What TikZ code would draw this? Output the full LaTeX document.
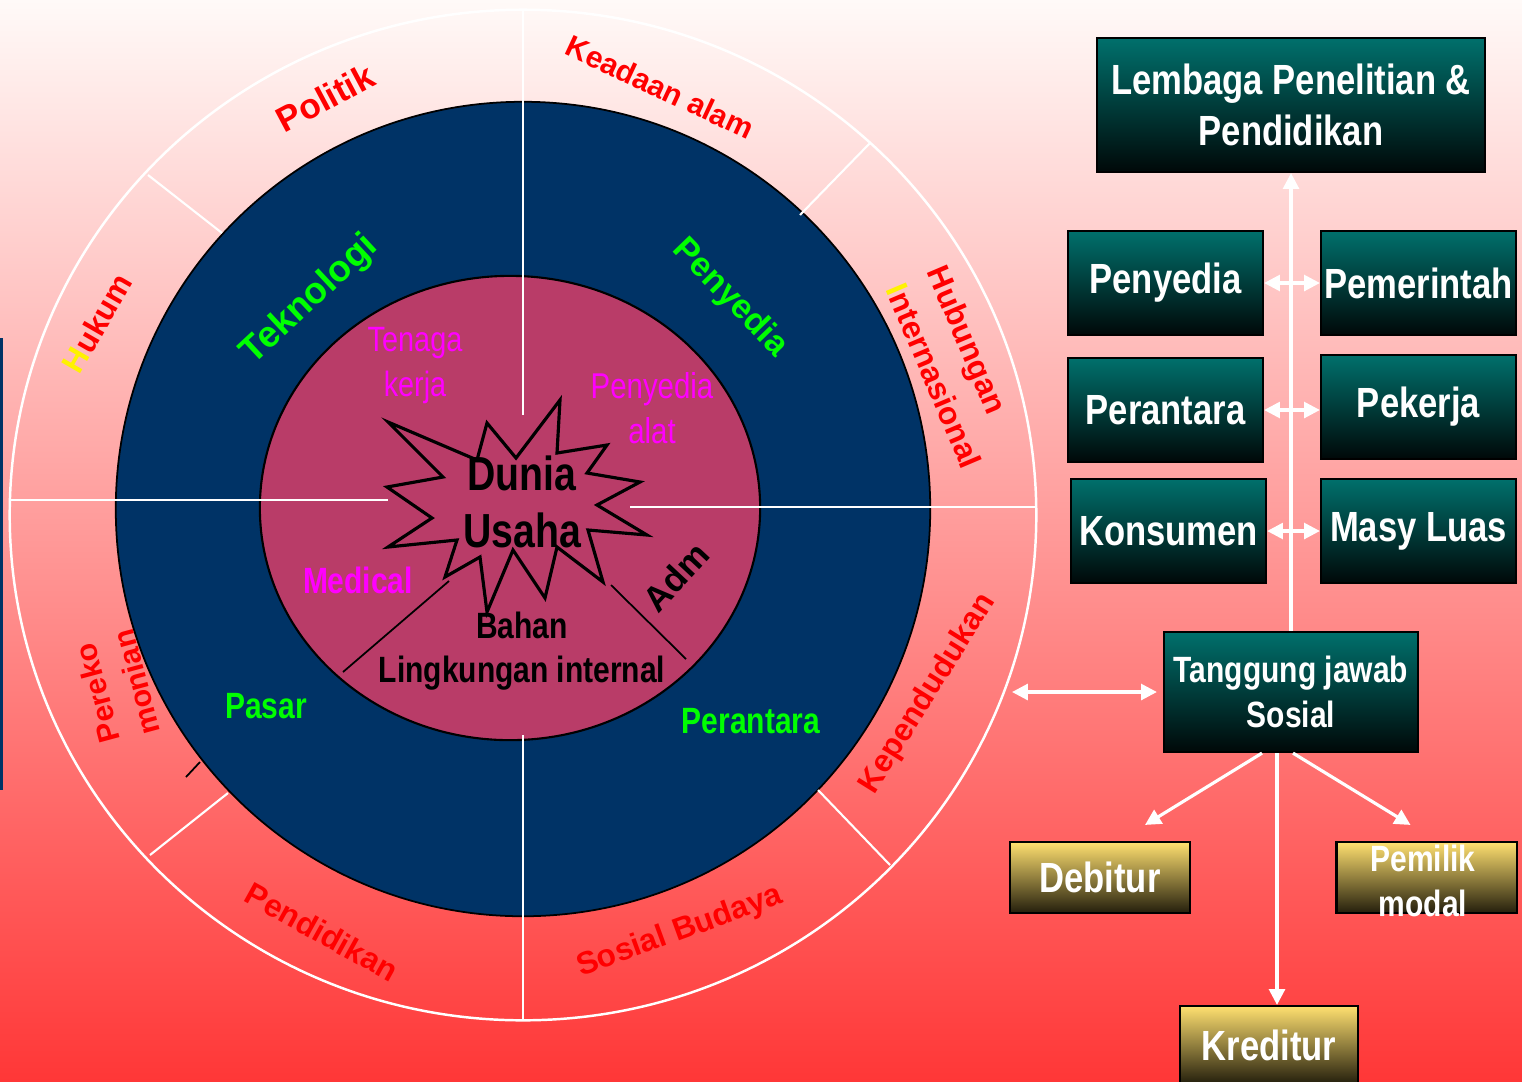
\documentclass[tikz,border=0pt]{standalone}
\usepackage{fontspec}
\setmainfont{Liberation Sans}
\newfontfamily\narrowfont[FakeStretch=0.82]{Liberation Sans}
\usetikzlibrary{calc,arrows.meta}

\definecolor{bgtop}{RGB}{255,250,248}
\definecolor{bgmid}{RGB}{255,178,178}
\definecolor{bgbot}{RGB}{255,55,55}
\definecolor{navy}{RGB}{0,51,102}
\definecolor{rose}{RGB}{185,60,104}
\definecolor{tealtop}{RGB}{0,112,108}
\definecolor{tealmid}{RGB}{0,72,70}
\definecolor{tealbot}{RGB}{0,8,8}
\definecolor{goldtop}{RGB}{255,224,112}
\definecolor{goldmid}{RGB}{180,150,65}
\definecolor{goldbot}{RGB}{35,30,12}
\definecolor{lime}{RGB}{0,255,0}
\definecolor{pink}{RGB}{255,0,255}

\newcommand\fsz[2]{\fontsize{#1}{#2}\selectfont}

\tikzset{
  ringtxt/.style={text=red, font=\bfseries\fsz{9}{11}, inner sep=0pt},
  bluetxt/.style={text=lime, font=\bfseries\fsz{10}{12}, inner sep=0pt},
  narrowtxt/.style={font=\narrowfont\bfseries\fsz{10.4}{12.6}, align=center, inner sep=0pt},
  tealbox/.style={draw=black, line width=0.6pt, top color=tealtop, middle color=tealmid,
    bottom color=tealbot, text=white, font=\narrowfont\bfseries\fsz{12}{14.5},
    align=center, inner sep=0pt, minimum width=1.95cm, minimum height=1.04cm},
  goldbox/.style={draw=black, line width=0.6pt, top color=goldtop, middle color=goldmid,
    bottom color=goldbot, text=white, font=\narrowfont\bfseries\fsz{12}{14.5},
    align=center, inner sep=0pt, minimum width=1.8cm, minimum height=0.71cm},
  wline/.style={white, line width=0.9pt},
  warr/.style={wline, -{Triangle[length=4.5pt,width=4.5pt]}},
  wdbl/.style={wline, {Triangle[length=4.5pt,width=4.5pt]}-{Triangle[length=4.5pt,width=4.5pt]}},
}

\begin{document}
\begin{tikzpicture}[x=0.01cm,y=-0.01cm]
  \useasboundingbox (0,0) rectangle (1522,1081);
  \clip (0,0) rectangle (1522,1081);
  \shade[top color=bgtop, middle color=bgmid, bottom color=bgbot] (0,0) rectangle (1522,1081);
  \fill[navy] (0,338) rectangle (3,790);

  % rings
  \draw[white, line width=0.7pt] (523,515) ellipse [x radius=5.13cm, y radius=5.05cm];
  \filldraw[fill=navy, draw=black, line width=0.5pt] (523,509) circle [radius=4.07cm];
  \filldraw[fill=rose, draw=black, line width=0.6pt] (510,508) ellipse [x radius=2.5cm, y radius=2.32cm];

  % dividing lines
  \draw[white, line width=0.6pt] (523,10) -- (523,415) (523,735) -- (523,1020)
    (10,500) -- (388,500) (630,507) -- (1037,507);
  \draw[white, line width=0.6pt] (148,175) -- (222,233) (870,143) -- (800,215)
    (150,855) -- (228,793) (818,790) -- (890,865);
  \draw[black, line width=0.5pt] (186,777) -- (200,762);
  \draw[black, line width=0.5pt] (343,672) -- (449,581) (611,585) -- (686,659);

  % star
  \draw[black, line width=0.9pt] (388,422) -- (477,460) -- (487,423) -- (516,458) -- (560,400)
    -- (557,453) -- (607,445) -- (587,473) -- (640,482) -- (597,505) -- (647,535)
    -- (588,530) -- (603,582) -- (557,547) -- (545,598) -- (513,550) -- (487,612)
    -- (480,557) -- (445,577) -- (457,540) -- (388,547) -- (432,518) -- (387,487)
    -- (443,477) -- cycle;

  % outer ring labels
  \node[ringtxt, font=\bfseries\fsz{10}{12}, rotate=28] (politik) at (325,98) {Politik};
  \node[ringtxt, font=\bfseries\fsz{8.6}{10}, rotate=-25] (alam) at (660,87) {Keadaan alam};
  \node[ringtxt, rotate=60] (hukum) at (97,323) {\textcolor{yellow}{H}ukum};
  \node[ringtxt, font=\bfseries\fsz{9}{12.8}, align=left, rotate=-67] (hubint) at (955,367)
    {Hubungan\\\textcolor{yellow}{I}nternasional};
  \node[ringtxt, rotate=58] (penduduk) at (928,694) {Kependudukan};
  \node[ringtxt, rotate=20] (sosbud) at (680,932) {Sosial Budaya};
  \node[ringtxt, rotate=-29] (didik) at (322,932) {Pendidikan};
  \node[ringtxt, font=\bfseries\fsz{8.6}{11.5}, align=center, rotate=105] (ekonomi) at (117,688) {Pereko\\monian};

  % blue ring labels
  \node[bluetxt, font=\bfseries\fsz{10.5}{12}, rotate=43] (tekno) at (310,300) {Teknologi};
  \node[bluetxt, font=\bfseries\fsz{9.7}{12}, rotate=-46] (sedia) at (730,298) {Penyedia};
  \node[narrowtxt, text=lime] (pasar) at (266,706) {Pasar};
  \node[narrowtxt, text=lime] (antara) at (751,721) {Perantara};

  % inner labels
  \node[narrowtxt, text=pink, font=\narrowfont\fsz{10}{12.8}] (tenaga) at (415,366) {Tenaga\\kerja};
  \node[narrowtxt, text=pink, font=\narrowfont\fsz{10.2}{12.8}] (alat) at (652,408) {Penyedia\\alat};
  \node[narrowtxt, text=pink] (medical) at (358,580) {Medical};
  \node[text=black, font=\bfseries\fsz{10}{12}, inner sep=0pt, rotate=47] (adm) at (676,577) {Adm};
  \node[narrowtxt] (lingk) at (522,651) {Bahan\\Lingkungan internal};
  \node[narrowtxt, font=\narrowfont\bfseries\fsz{13.6}{16.2}] (dunia) at (522,502) {Dunia\\Usaha};

  % boxes
  \node[tealbox, minimum width=3.88cm, minimum height=1.34cm] (lembaga) at (1291,105)
    {Lembaga Penelitian \&\\Pendidikan};
  \node[tealbox] (penyedia) at (1165.5,283) {Penyedia};
  \node[tealbox] (pemerintah) at (1418.5,283) {Pemerintah};
  \node[tealbox] (perantara) at (1165.5,410) {Perantara};
  \node[tealbox] (pekerja) at (1418.5,407) {Pekerja};
  \node[tealbox] (konsumen) at (1168.5,531) {Konsumen};
  \node[tealbox] (masy) at (1418.5,531) {Masy Luas};
  \node[tealbox, minimum width=2.54cm, minimum height=1.2cm, font=\narrowfont\bfseries\fsz{10.4}{12.8}]
    (tjs) at (1291,692) {Tanggung jawab\\Sosial};
  \node[goldbox] (debitur) at (1100,877.5) {Debitur};
  \node[goldbox] (pemilik) at (1426.5,877.5) {};
  \node[narrowtxt, text=white] (pemiliktxt) at (1423,881) {Pemilik\\modal};
  \node[goldbox, minimum width=1.78cm, minimum height=0.78cm] (kreditur) at (1269,1045) {Kreditur};

  % connectors
  \coordinate (ringpt) at (1012,692);
  \draw[warr] (tjs.north) -- (lembaga.south);
  \draw[wdbl] (penyedia.east) -- (pemerintah.west);
  \draw[wdbl] (perantara.east) -- (perantara.east -| pekerja.west);
  \draw[wdbl] (konsumen.east) -- (masy.west);
  \draw[wdbl, shorten >=1.7pt] (ringpt) -- (tjs.west);
  \draw[warr] ($(tjs.south)+(-29,0)$) -- ($(debitur.north)+(45,-16)$);
  \draw[warr] ($(tjs.south)+(2,0)$) -- ($(pemilik.north)+(-16,-16)$);
  \draw[warr] ($(tjs.south)+(-14,0)$) -- ($(tjs.south |- kreditur.north)+(-14,0)$);
\end{tikzpicture}
\end{document}
